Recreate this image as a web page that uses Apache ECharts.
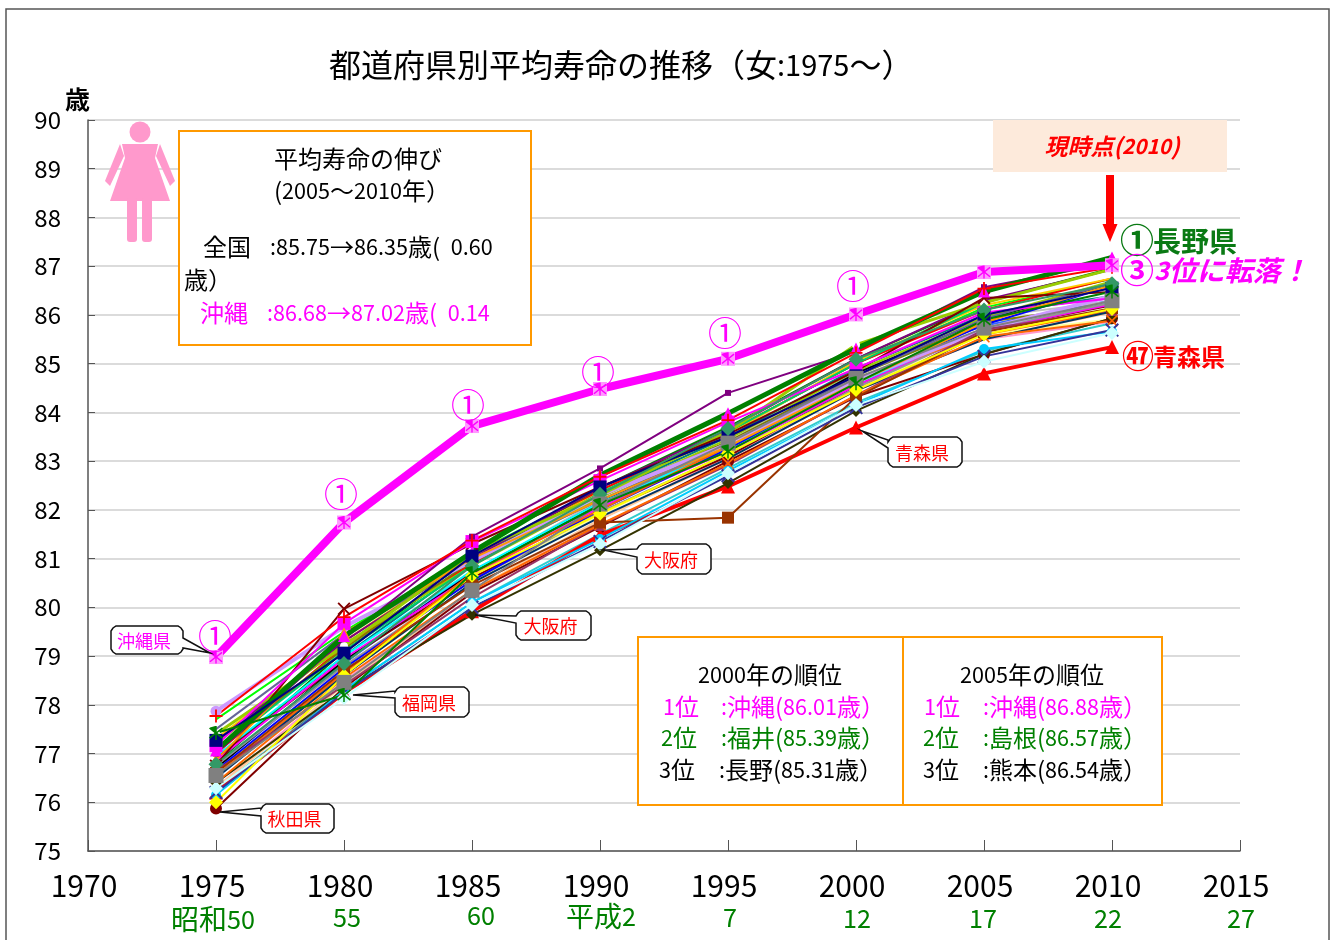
<!DOCTYPE html>
<html>
<head>
<meta charset="utf-8">
<style>html,body{margin:0;padding:0;background:#fff}#chart{width:1333px;height:940px}</style>
<script src="https://cdn.jsdelivr.net/npm/echarts@6/dist/echarts.min.js"></script>
</head>
<body>
<div id="chart"></div>
<script>
const years = [1975, 1980, 1985, 1990, 1995, 2000, 2005, 2010];
const eraLabels = ['昭和50', '55', '60', '平成2', '7', '12', '17', '22', '27'];

// values, one list per prefecture (1975 .. 2010)
const hokkaido  = [76.70, 78.85, 80.75, 82.10, 83.30, 84.85, 85.78, 86.30];
const aomori    = [76.20, 78.25, 79.92, 81.48, 82.48, 83.69, 84.80, 85.34];
const iwate     = [76.30, 78.50, 80.30, 81.80, 83.10, 84.45, 85.50, 85.86];
const miyagi    = [76.90, 79.00, 80.90, 82.30, 83.50, 84.90, 86.00, 86.39];
const akita     = [75.87, 78.35, 80.30, 81.65, 83.00, 84.32, 85.19, 85.93];
const yamagata  = [76.50, 78.70, 80.70, 82.20, 83.40, 84.85, 85.95, 86.28];
const fukushima = [76.30, 78.40, 80.35, 81.80, 83.05, 84.45, 85.52, 86.05];
const ibaraki   = [76.25, 78.30, 80.10, 81.50, 82.85, 84.20, 85.26, 85.83];
const tochigi   = [76.15, 78.30, 80.10, 81.40, 82.80, 84.15, 85.30, 85.66];
const gunma     = [76.60, 78.60, 80.50, 81.90, 83.15, 84.50, 85.60, 85.91];
const saitama   = [76.40, 78.55, 80.35, 81.70, 82.95, 84.35, 85.55, 85.88];
const chiba     = [76.90, 78.90, 80.60, 81.95, 83.10, 84.55, 85.68, 86.20];
const tokyo     = [77.87, 79.60, 80.95, 82.30, 83.35, 84.65, 85.70, 86.39];
const kanagawa  = [77.70, 79.50, 81.10, 82.40, 83.60, 85.00, 86.15, 86.74];
const niigata   = [76.80, 79.10, 80.95, 82.45, 83.70, 85.10, 86.27, 86.96];
const toyama    = [77.00, 79.20, 80.90, 82.40, 83.60, 85.00, 86.10, 86.75];
const ishikawa  = [77.30, 79.30, 81.05, 82.35, 83.55, 85.05, 86.20, 86.75];
const fukui     = [77.40, 79.20, 81.10, 82.30, 83.60, 85.39, 86.25, 86.94];
const yamanashi = [76.70, 78.90, 80.70, 82.15, 83.35, 84.80, 85.90, 86.65];
const nagano    = [77.06, 79.41, 81.13, 82.71, 83.98, 85.31, 86.48, 87.18];
const gifu      = [76.95, 79.00, 80.75, 82.15, 83.25, 84.60, 85.65, 86.26];
const shizuoka  = [77.10, 79.15, 80.95, 82.30, 83.40, 84.75, 85.85, 86.22];
const aichi     = [76.85, 78.95, 80.65, 82.05, 83.20, 84.55, 85.68, 86.22];
const mie       = [76.75, 78.80, 80.55, 81.95, 83.15, 84.50, 85.70, 86.25];
const shiga     = [77.20, 79.25, 80.85, 82.25, 83.45, 84.85, 85.95, 86.69];
const kyoto     = [77.50, 79.45, 80.95, 82.20, 83.35, 84.75, 85.92, 86.65];
const osaka     = [76.40, 78.30, 79.85, 81.17, 82.55, 84.03, 85.20, 85.93];
const hyogo     = [76.60, 78.70, 80.45, 81.74, 81.84, 84.31, 85.65, 86.14];
const nara      = [76.65, 78.75, 80.55, 82.00, 83.25, 84.65, 85.80, 86.60];
const wakayama  = [76.20, 78.25, 80.00, 81.35, 82.70, 84.10, 85.15, 85.69];
const tottori   = [76.55, 78.65, 80.70, 82.00, 83.30, 84.70, 85.60, 86.08];
const shimane   = [77.00, 79.35, 81.45, 82.85, 84.40, 85.25, 86.57, 87.07];
const okayama   = [77.25, 79.30, 81.00, 82.45, 83.65, 85.10, 86.30, 86.93];
const hiroshima = [77.05, 79.10, 80.85, 82.35, 83.60, 85.00, 86.25, 86.94];
const yamaguchi = [76.50, 78.60, 80.50, 81.85, 83.05, 84.45, 85.50, 86.07];
const tokushima = [76.00, 78.60, 80.65, 81.92, 83.16, 84.46, 85.60, 86.12];
const kagawa    = [77.16, 79.67, 81.35, 82.60, 83.80, 84.90, 86.05, 86.34];
const ehime     = [76.65, 78.40, 80.20, 81.69, 82.92, 84.35, 85.70, 86.10];
const kochi     = [76.75, 79.97, 81.30, 82.47, 83.55, 84.85, 86.35, 86.47];
const fukuoka   = [77.42, 78.20, 80.70, 82.10, 83.20, 84.60, 85.90, 86.48];
const saga      = [76.78, 78.85, 80.85, 82.32, 83.67, 85.09, 86.10, 86.64];
const nagasaki  = [76.55, 78.46, 80.35, 82.12, 83.37, 84.70, 85.73, 86.29];
const kumamoto  = [77.77, 79.80, 81.37, 82.68, 83.84, 85.22, 86.54, 86.98];
const oita      = [77.27, 79.06, 81.05, 82.47, 83.50, 84.75, 86.00, 86.55];
const miyazaki  = [76.87, 79.47, 81.00, 82.20, 83.30, 84.60, 85.85, 86.61];
const kagoshima = [76.29, 78.14, 80.05, 81.30, 82.75, 84.15, 85.04, 85.63];
const okinawa   = [78.98, 81.74, 83.72, 84.48, 85.10, 86.01, 86.88, 87.02];

// marker shapes for the series that Excel drew with crosses
const SYM_X = 'path://M0 1L1 0L5 4L9 0L10 1L6 5L10 9L9 10L5 6L1 10L0 9L4 5Z';
const SYM_PLUS = 'path://M4.3 0H5.7V4.3H10V5.7H5.7V10H4.3V5.7H0V4.3H4.3Z';
const SYM_STAR = 'path://M4.5 0H5.5V4L9 1L9.7 1.8L6 5L9.7 8.2L9 9L5.5 6V10H4.5V6L1 9L0.3 8.2L4 5L0.3 1.8L1 1Z';

// values, line colour, line width, marker, marker size, marker colour. Later on top.
const lines = [
  [hokkaido, '#3366ff', 2, 'none', 0], [iwate, '#ff99cc', 2, 'none', 0], [miyagi, '#008080', 2, 'none', 0],
  [yamagata, '#c0c0c0', 2, 'none', 0], [fukushima, '#ffcc99', 2, 'none', 0], [ibaraki, '#33cccc', 2, 'none', 0],
  [gunma, '#ffff99', 2, 'none', 0], [chiba, '#800000', 2, 'none', 0], [kanagawa, '#00ff00', 2, 'none', 0],
  [niigata, '#008000', 2, 'none', 0], [toyama, '#ff0000', 2, 'none', 0], [ishikawa, '#ffcc00', 2, 'none', 0],
  [yamanashi, '#000000', 2, 'none', 0], [gifu, '#00ffff', 2, 'none', 0], [shizuoka, '#808000', 2, 'none', 0],
  [aichi, '#ff00ff', 2, 'none', 0], [mie, '#969696', 2, 'none', 0], [shiga, '#99cc00', 2, 'none', 0],
  [kyoto, '#666699', 2, 'none', 0], [nara, '#0000ff', 2, 'none', 0], [tottori, '#ff6600', 2, 'none', 0],
  [okayama, '#800080', 2, 'none', 0], [hiroshima, '#00cc66', 2, 'none', 0], [yamaguchi, '#003366', 2, 'none', 0],
  [akita, '#800000', 2, 'circle', 12], [aomori, '#ff0000', 4, 'triangle', 14], [osaka, '#333300', 2, 'diamond', 12],
  [tokyo, '#cc99ff', 4, 'circle', 11], [fukui, '#99cc00', 3, 'circle', 8, '#ffffff'],
  [kochi, '#800000', 2, SYM_X, 13], [kagawa, '#ff00ff', 2, 'rect', 13], [miyazaki, '#ff9900', 2, 'triangle', 12],
  [shimane, '#800080', 2, 'rect', 6], [nagano, '#008000', 5, 'triangle', 12, '#ff00ff'],
  [kumamoto, '#ff0000', 2, SYM_PLUS, 13], [oita, '#000080', 2, 'rect', 13], [ehime, '#993366', 2, 'triangle', 12],
  [saitama, '#ff6600', 2, SYM_X, 12], [hyogo, '#993300', 2, 'rect', 12], [tochigi, '#00ccff', 2, 'circle', 10],
  [wakayama, '#333399', 2, SYM_X, 14], [tokushima, '#ffff00', 2, 'diamond', 14], [kagoshima, '#ccffff', 2, 'diamond', 14],
  [saga, '#339966', 2, 'diamond', 15], [nagasaki, '#808080', 2, 'rect', 15], [fukuoka, '#008000', 2, SYM_STAR, 14],
  [okinawa, '#ff00ff', 8, 'rect', 14, '#ff99ff']
];

const JP = '"Noto Sans CJK JP"';
const TEXT_Z = 30;

// digits are set a little smaller than the kanji, the original font has narrow ones
function txt(text, x, y, size, color, extra) {
  const fill = color || '#000';
  const style = Object.assign({
    text: text.replace(/[0-9.:]+/g, m => `{d|${m}}`),
    fill, fontSize: size, fontFamily: JP,
    textAlign: 'left', textVerticalAlign: 'middle'
  }, extra || {});
  style.rich = {
    d: {
      fontSize: size * 0.9, fontFamily: JP, fill,
      fontWeight: style.fontWeight || 'normal', fontStyle: style.fontStyle || 'normal'
    }
  };
  return { type: 'text', x, y, z: TEXT_Z, style };
}

function box(x, y, width, height, fill, stroke, lineWidth) {
  return {
    type: 'rect', z: 20, shape: { x, y, width, height },
    style: { fill: fill, stroke: stroke, lineWidth: lineWidth }
  };
}

// rounded box with the wedge going to tip, off its left or right side
function calloutPoints(x, y, w, h, side, a, b, tip) {
  const c = 2, r = 5;
  const pts = [[x + r, y], [x + w - r, y], [x + w - c, y + c], [x + w, y + r]];
  if (side === 'r') pts.push([x + w, a], tip, [x + w, b]);
  pts.push([x + w, y + h - r], [x + w - c, y + h - c], [x + w - r, y + h], [x + r, y + h], [x + c, y + h - c], [x, y + h - r]);
  if (side === 'l') pts.push([x, b], tip, [x, a]);
  pts.push([x, y + r], [x + c, y + c]);
  return pts;
}

function callout(label, color, x, y, w, h, side, a, b, tip) {
  return [
    {
      type: 'polygon', z: 25, shape: { points: calloutPoints(x, y, w, h, side, a, b, tip) },
      style: { fill: '#fff', stroke: '#111', lineWidth: 1.5 }
    },
    txt(label, x + w / 2 - 3, y + h / 2 + 1, 18, color, { textAlign: 'center' })
  ];
}

const eraX = [213, 347, 481, 601, 730, 857, 983, 1108, 1241];
const eraY = [919, 917, 915, 916, 917, 918, 918, 918, 918];
const firstMarks = [[215, 636], [341, 494], [468, 405], [598, 372], [725, 333], [853, 286]];
const WOMAN = '#ff99cc';

const graphic = [
  // outer frame
  { type: 'rect', z: 1, shape: { x: 6, y: 9, width: 1323, height: 960 }, style: { fill: 'none', stroke: '#555', lineWidth: 1.5 } },

  // woman icon
  { type: 'circle', z: 20, shape: { cx: 140, cy: 132, r: 10.5 }, style: { fill: WOMAN } },
  { type: 'polygon', z: 20, shape: { points: [[122, 144], [158, 144], [155, 158], [170, 201], [110, 201], [125, 158]] }, style: { fill: WOMAN } },
  { type: 'polygon', z: 20, shape: { points: [[120, 144], [105, 181], [110, 186], [124, 156]] }, style: { fill: WOMAN } },
  { type: 'polygon', z: 20, shape: { points: [[160, 144], [175, 181], [170, 186], [156, 156]] }, style: { fill: WOMAN } },
  { type: 'rect', z: 20, shape: { x: 127, y: 198, width: 10, height: 44, r: 3 }, style: { fill: WOMAN } },
  { type: 'rect', z: 20, shape: { x: 142, y: 198, width: 10, height: 44, r: 3 }, style: { fill: WOMAN } },

  // left note
  box(179, 131, 352, 214, '#fff', '#ff9900', 2),
  txt('平均寿命の伸び', 274, 159, 24),
  txt('(2005〜2010年）', 274, 191, 24),
  txt('全国', 203, 247, 24),
  txt(':85.75→86.35歳(  0.60', 270, 247, 24),
  txt('歳）', 184, 280, 24),
  txt('沖縄', 200, 313, 24, '#ff00ff'),
  txt(':86.68→87.02歳(  0.14', 267, 313, 24, '#ff00ff'),

  // ranking table
  box(638, 637, 265, 168, '#fff', '#ff9900', 2),
  box(903, 637, 259, 168, '#fff', '#ff9900', 2),
  txt('2000年の順位', 770, 675, 24, '#000', { textAlign: 'center' }),
  txt('1位', 663, 707, 24, '#ff00ff'), txt(':沖縄(86.01歳）', 721, 707, 24, '#ff00ff'),
  txt('2位', 661, 738, 24, '#008000'), txt(':福井(85.39歳）', 721, 738, 24, '#008000'),
  txt('3位', 659, 770, 24), txt(':長野(85.31歳）', 719, 770, 24),
  txt('2005年の順位', 1032, 675, 24, '#000', { textAlign: 'center' }),
  txt('1位', 924, 707, 24, '#ff00ff'), txt(':沖縄(86.88歳）', 983, 707, 24, '#ff00ff'),
  txt('2位', 923, 738, 24, '#008000'), txt(':島根(86.57歳）', 983, 738, 24, '#008000'),
  txt('3位', 923, 770, 24), txt(':熊本(86.54歳）', 983, 770, 24),

  // present point
  box(993, 120, 234, 52, '#fdeadb', 'none', 0),
  txt('現時点(2010)', 1112, 146, 23, '#ff0000', { textAlign: 'center', fontWeight: 'bold', fontStyle: 'italic' }),
  { type: 'polygon', z: 20, shape: { points: [[1106, 175], [1114, 175], [1114, 224], [1117.5, 224], [1110, 242], [1102.5, 224], [1106, 224]] }, style: { fill: '#ff0000' } },
  txt('①', 1137, 240, 34, '#0a7a14', { textAlign: 'center', fontWeight: 'bold' }),
  txt('長野県', 1153, 241, 28, '#0a7a14', { fontWeight: 'bold' }),
  txt('③', 1137, 270, 34, '#ff00ff', { textAlign: 'center', fontWeight: 'bold' }),
  txt('3位に転落！', 1154, 270, 28, '#ff00ff', { fontWeight: 'bold', fontStyle: 'italic' }),
  txt('㊼', 1138, 356, 32, '#ff0000', { textAlign: 'center', fontWeight: 'bold' }),
  txt('青森県', 1153, 357, 24, '#ff0000', { fontWeight: 'bold' }),

  // unit
  txt('歳', 65, 99, 25, '#000', { fontWeight: 'bold' }),

  ...callout('沖縄県', '#ff00ff', 111, 626, 72, 28, 'r', 638, 648, [210, 653]),
  ...callout('秋田県', '#ff0000', 261, 804, 73, 29, 'l', 808, 816, [220, 812]),
  ...callout('福岡県', '#ff0000', 395, 687, 74, 30, 'l', 691, 698, [353, 695]),
  ...callout('大阪府', '#ff0000', 516, 611, 75, 29, 'l', 616, 623, [475, 615]),
  ...callout('大阪府', '#ff0000', 637, 544, 74, 30, 'l', 549, 557, [604, 550]),
  ...callout('青森県', '#ff0000', 888, 437, 74, 30, 'l', 440, 448, [862, 431])
];

firstMarks.forEach(p => {
  graphic.push(txt('①', p[0], p[1], 34, '#ff00ff', { textAlign: 'center' }));
});
eraLabels.forEach((label, i) => {
  graphic.push(txt(label, eraX[i], eraY[i], 28, '#008000', { textAlign: 'center' }));
});

const series = lines.map(([values, color, width, symbol, size, markerColor]) => ({
  type: 'line',
  data: values.map((v, i) => [years[i], v]),
  lineStyle: { color: color, width: width },
  itemStyle: { color: markerColor || color },
  symbol: symbol,
  symbolSize: size,
  showSymbol: symbol !== 'none',
  silent: true,
  z: 3
}));

// star on top of Okinawa's pale square
series.push({
  type: 'line',
  data: okinawa.map((v, i) => [years[i], v]),
  lineStyle: { width: 0 },
  itemStyle: { color: '#ff00ff' },
  symbol: SYM_STAR,
  symbolSize: 13,
  silent: true,
  z: 4
});

const chart = echarts.init(document.getElementById('chart'));
chart.setOption({
  animation: false,
  backgroundColor: '#fff',
  title: {
    text: '都道府県別平均寿命の推移（女{d|:1975}〜）',
    left: 324,
    top: 44,
    textStyle: {
      color: '#000', fontSize: 32, fontWeight: 'normal', fontFamily: JP,
      rich: { d: { fontSize: 29, fontFamily: JP, color: '#000' } }
    }
  },
  grid: { left: 88, right: 93, top: 120, bottom: 89 },
  xAxis: {
    type: 'value', min: 1970, max: 2015, interval: 5,
    axisLine: { lineStyle: { color: '#555', width: 1.5 } },
    axisTick: { inside: true, length: 11, lineStyle: { color: '#555' } },
    axisLabel: { color: '#000', fontSize: 30, fontFamily: JP, margin: 20, padding: [0, 8, 0, 0], formatter: v => String(v) },
    splitLine: { show: false }
  },
  yAxis: {
    type: 'value', min: 75, max: 90, interval: 1,
    axisLine: { lineStyle: { color: '#555', width: 1.5 } },
    axisTick: { inside: true, length: 7, lineStyle: { color: '#555' } },
    axisLabel: { color: '#000', fontSize: 24, fontFamily: JP, margin: 27 },
    splitLine: { lineStyle: { color: '#cfcfcf', width: 1.5 } }
  },
  graphic: graphic,
  series: series
});
</script>
</body>
</html>
